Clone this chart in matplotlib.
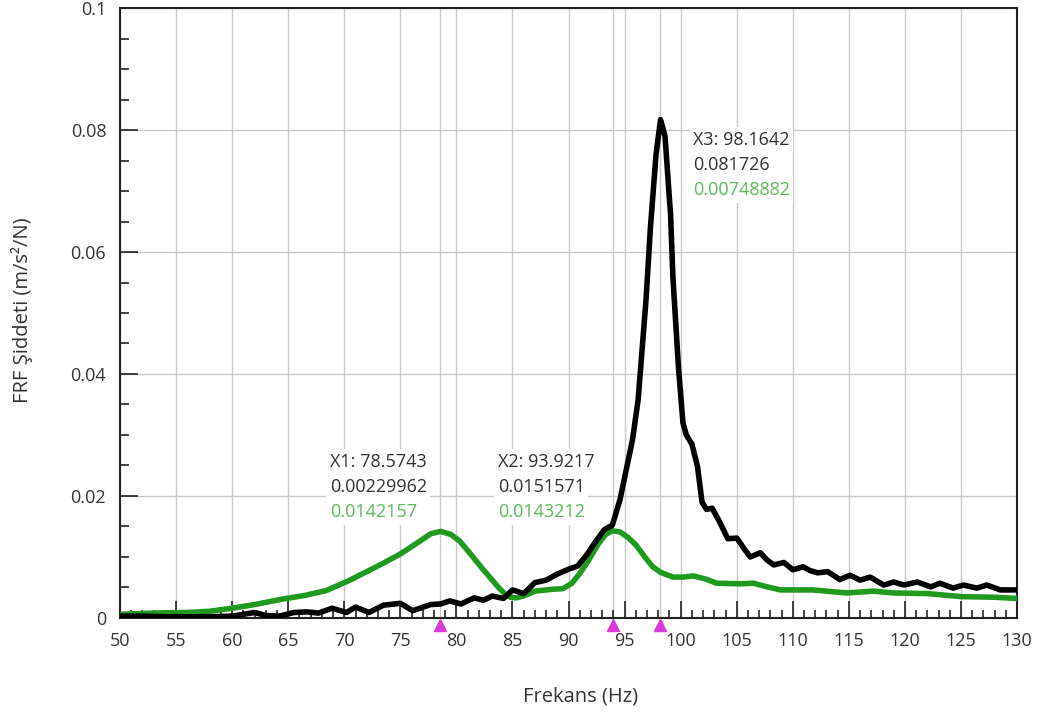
import numpy as np
import matplotlib
matplotlib.use("Agg")
import matplotlib.pyplot as plt
import matplotlib.transforms as mtransforms

plt.rcParams['font.family'] = ['Open Sans', 'DejaVu Sans']

# --- data ---
freq_black = [50, 52, 54, 56, 58, 60, 61, 62, 63, 64.2, 65.5, 66.7, 67.7, 68.9, 70.2, 71,
              72.2, 73.5, 75, 76.1, 77.7, 78.6, 79.4, 80.4, 81.6, 82.4, 83.2, 84.2, 85, 86,
              87, 88, 89, 90, 90.8, 91.6, 92.4, 93.2, 93.9, 94.6, 95.2, 95.7, 96.2, 96.9,
              97.3, 97.8, 98.2, 98.6, 99.1, 99.3, 99.8, 100.2, 100.5, 101.0, 101.5, 101.9,
              102.3, 102.8, 103.4, 104.2, 105.0, 105.6, 106.2, 107.1, 107.7, 108.3, 109.2,
              110.0, 110.9, 111.5, 112.2, 113.1, 114.2, 115.1, 116.0, 116.9, 118.1, 119.0,
              119.9, 121.1, 122.3, 123.1, 124.3, 125.2, 126.4, 127.3, 128.5, 130]
frf_black = [0.0003, 0.0003, 0.0002, 0.0002, 0.0002, 0.0003, 0.0006, 0.0009, 0.0004, 0.0003,
             0.0009, 0.0010, 0.0008, 0.0016, 0.0009, 0.0018, 0.0009, 0.0021, 0.0024, 0.0012,
             0.0022, 0.0023, 0.0028, 0.0023, 0.0033, 0.0029, 0.0036, 0.0032, 0.0046, 0.0040,
             0.0058, 0.0062, 0.0072, 0.0080, 0.0085, 0.0103, 0.0125, 0.0145, 0.0152, 0.0195,
             0.0248, 0.0292, 0.0357, 0.0520, 0.0640, 0.0760, 0.0817, 0.0790, 0.0660, 0.0560,
             0.0411, 0.0320, 0.0300, 0.0285, 0.0248, 0.0190, 0.0178, 0.0180, 0.0160, 0.0130,
             0.0131, 0.0115, 0.0100, 0.0107, 0.0095, 0.0087, 0.0091, 0.0079, 0.0084, 0.0078,
             0.0074, 0.0076, 0.0063, 0.0070, 0.0062, 0.0067, 0.0054, 0.0059, 0.0054, 0.0059,
             0.0051, 0.0057, 0.0049, 0.0054, 0.0049, 0.0054, 0.0046, 0.0046]

freq_green = [50, 53, 56, 58, 60, 62, 64.5, 66.5, 68.4, 70.5, 72, 73.5, 75, 76.5, 77.7, 78.6,
              79.5, 80.3, 81.3, 82.4, 83.2, 83.8, 84.3, 84.8, 85.3, 86.0, 87, 88.5, 89.5, 90.3,
              91, 91.8, 92.6, 93.3, 93.9, 94.6, 95.3, 96.0, 96.8, 97.5, 98.2, 99.3, 100.2,
              101.1, 102.2, 103.2, 105.3, 106.5, 107.5, 108.9, 111.8, 114.8, 117.2, 119, 122,
              125, 128, 130]
frf_green = [0.0006, 0.0008, 0.0009, 0.0011, 0.0016, 0.0022, 0.0031, 0.0037, 0.0045, 0.0062,
             0.0076, 0.0090, 0.0105, 0.0123, 0.0138, 0.0142, 0.0137, 0.0126, 0.0104, 0.0079,
             0.0062, 0.0049, 0.0040, 0.0034, 0.0033, 0.0036, 0.0044, 0.0047, 0.0048, 0.0057,
             0.0073, 0.0095, 0.0120, 0.0137, 0.0143, 0.0141, 0.0132, 0.0120, 0.0100, 0.0084,
             0.0075, 0.0067, 0.0067, 0.0069, 0.0064, 0.0057, 0.0056, 0.0057, 0.0052, 0.0046,
             0.0046, 0.0041, 0.0044, 0.0041, 0.0040, 0.0035, 0.0034, 0.0032]

# cursor markers: x, black value, green value
cursor_names = ['X1', 'X2', 'X3']
cursor_x = [78.5743, 93.9217, 98.1642]
cursor_black = ['0.00229962', '0.0151571', '0.081726']
cursor_green = ['0.0142157', '0.0143212', '0.00748882']
# where each readout block sits (left x, top line y) in data units
label_x = [68.7, 83.7, 101.1]
label_y = [0.0256, 0.0256, 0.0784]

x_ticks = list(range(50, 131, 5))
y_ticks = [0, 0.02, 0.04, 0.06, 0.08, 0.1]
y_tick_labels = ['0', '0.02', '0.04', '0.06', '0.08', '0.1']

GRID = '#c8c8c8'
TXT = '#333333'
GREEN = '#1f9a1f'
GREEN_TXT = '#5cb85c'

fig = plt.figure(figsize=(10.4, 7.16), dpi=100)
ax = fig.add_axes([0.1154, 0.1369, 0.978 - 0.1154, 0.9888 - 0.1369])

ax.set_xlim(50, 130)
ax.set_ylim(0, 0.1)

ax.set_xticks(x_ticks)
ax.set_xticks(np.arange(50, 131, 1), minor=True)
ax.set_yticks(y_ticks)
ax.set_yticklabels(y_tick_labels)
ax.set_yticks(np.arange(0, 0.1001, 0.005), minor=True)

ax.grid(True, which='major', color=GRID, lw=1.0, zorder=0)
for cx in cursor_x:
    ax.axvline(cx, color=GRID, lw=1.0, zorder=0)

ax.plot(freq_green, frf_green, color=GREEN, lw=4.0, zorder=3,
        solid_joinstyle='round', solid_capstyle='round')
ax.plot(freq_black, frf_black, color='black', lw=4.0, zorder=4,
        solid_joinstyle='round', solid_capstyle='round')

# readout blocks
for i in range(3):
    bb = dict(facecolor='white', edgecolor='none', pad=2.5)
    ax.text(label_x[i], label_y[i], f'{cursor_names[i]}: {cursor_x[i]}', color=TXT,
            fontsize=13, va='center', ha='left', bbox=bb, zorder=5)
    ax.text(label_x[i], label_y[i] - 0.0042, cursor_black[i], color=TXT,
            fontsize=13, va='center', ha='left', bbox=bb, zorder=5)
    ax.text(label_x[i], label_y[i] - 0.0083, cursor_green[i], color=GREEN_TXT,
            fontsize=13, va='center', ha='left', bbox=bb, zorder=5)

# magenta cursor triangles under the axis
trans = mtransforms.blended_transform_factory(ax.transData, ax.transAxes)
ax.plot(cursor_x, [-0.011] * 3, marker='^', ls='none', color='#d93ad9', ms=9,
        transform=trans, clip_on=False, zorder=6)

ax.tick_params(axis='both', which='both', direction='in', colors='#222222',
               labelcolor=TXT, labelsize=13, width=1.2)
ax.tick_params(axis='x', which='major', length=12, pad=10)
ax.tick_params(axis='x', which='minor', length=6)
ax.tick_params(axis='y', which='major', length=13, pad=10)
ax.tick_params(axis='y', which='minor', length=6.5)

for s in ax.spines.values():
    s.set_color('#222222')
    s.set_linewidth(1.5)

ax.set_xlabel('Frekans (Hz)', fontsize=14.5, color=TXT)
ax.set_ylabel('FRF Şiddeti (m/s²/N)', fontsize=14.5, color=TXT)
ax.xaxis.set_label_coords(0.513, -0.112)
ax.yaxis.set_label_coords(-0.097, 0.505)

fig.savefig('out.png', dpi=100)
